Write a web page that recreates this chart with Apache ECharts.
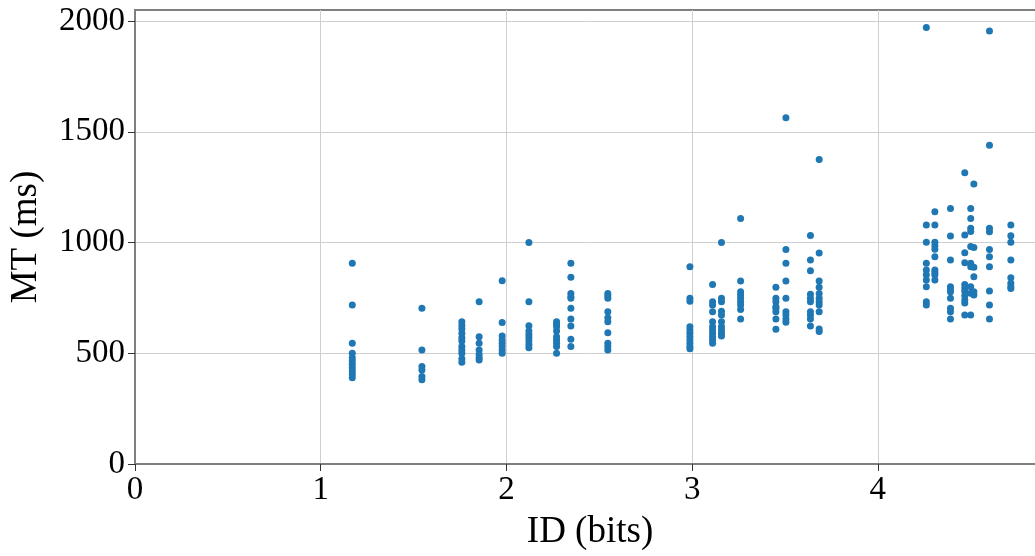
<!DOCTYPE html>
<html>
<head>
<meta charset="utf-8">
<script src="https://cdn.jsdelivr.net/npm/echarts@6/dist/echarts.min.js"></script>
<style>html,body{margin:0;padding:0;background:#fff}#c{width:1035px;height:556px}</style>
</head>
<body>
<div id="c"></div>
<script>
// ID (bits) of each column of points
const ids = [1.17, 1.545, 1.76, 1.853, 1.977, 2.121, 2.27, 2.347, 2.546, 2.988, 3.11, 3.158, 3.261, 3.451, 3.505, 3.637, 3.684, 4.261, 4.307, 4.391, 4.468, 4.50, 4.517, 4.601, 4.716];
// MT (ms) values, one small array per ID column
const mt_117 = [906, 718, 545, 500, 480, 465, 450, 435, 420, 405, 390];
const mt_155 = [703, 515, 440, 425, 395, 380];
const mt_176 = [642, 625, 610, 590, 570, 555, 530, 515, 500, 475, 460];
const mt_185 = [733, 575, 545, 515, 495, 480, 470];
const mt_198 = [828, 639, 578, 560, 545, 530, 515, 500];
const mt_212 = [1000, 733, 624, 600, 585, 570, 555, 540, 525];
const mt_227 = [642, 630, 620, 600, 575, 560, 545, 530, 500];
const mt_235 = [906, 843, 770, 755, 748, 703, 655, 623, 563, 530];
const mt_255 = [770, 760, 748, 688, 660, 642, 593, 545, 530, 515];
const mt_299 = [891, 748, 735, 620, 605, 590, 575, 560, 545, 530, 520];
const mt_311 = [811, 733, 718, 688, 642, 620, 605, 590, 575, 560, 545];
const mt_316 = [1000, 748, 733, 690, 673, 642, 620, 605, 590, 578];
const mt_326 = [1109, 826, 778, 763, 748, 733, 718, 698, 655];
const mt_345 = [798, 748, 733, 710, 703, 688, 655, 608];
const mt_350 = [1564, 969, 906, 826, 748, 688, 673, 655, 640];
const mt_364 = [1032, 921, 873, 766, 748, 733, 688, 673, 655, 623];
const mt_368 = [1375, 953, 826, 798, 770, 748, 733, 718, 688, 610, 598];
const mt_426 = [1971, 1079, 1001, 906, 876, 855, 831, 800, 733, 718];
const mt_431 = [1139, 1079, 1001, 985, 970, 936, 876, 865, 853, 831];
const mt_439 = [1154, 1029, 921, 800, 790, 778, 748, 703, 688, 655];
const mt_447 = [1315, 1034, 954, 909, 810, 795, 780, 760, 740, 727, 673];
const mt_450 = [1154, 1109, 1064, 1050, 982, 906, 891, 800, 771, 673];
const mt_452 = [1264, 978, 888, 846, 778, 763];
const mt_460 = [1955, 1439, 1064, 1049, 969, 936, 891, 781, 718, 655];
const mt_472 = [1079, 1031, 1001, 921, 841, 816, 800, 793];
const mtColumns = [mt_117, mt_155, mt_176, mt_185, mt_198, mt_212, mt_227, mt_235, mt_255, mt_299, mt_311, mt_316, mt_326, mt_345, mt_350, mt_364, mt_368, mt_426, mt_431, mt_439, mt_447, mt_450, mt_452, mt_460, mt_472];
const xTicks = [0, 1, 2, 3, 4];
const yTicks = [0, 500, 1000, 1500, 2000];

const points = [];
ids.forEach((id, i) => mtColumns[i].forEach(v => points.push([id, v])));

const FONT = '"Liberation Serif", "DejaVu Serif", serif';
const spine = '#7f7f7f';
const chart = echarts.init(document.getElementById('c'), null, {renderer: 'canvas'});
chart.setOption({
  animation: false,
  backgroundColor: '#ffffff',
  grid: {left: 135, top: 10, bottom: 92, right: -10, containLabel: false, outerBoundsMode: 'none',
    show: true, borderColor: spine, borderWidth: 2, backgroundColor: 'transparent'},
  xAxis: {
    type: 'value', min: 0, max: 4.9, interval: 1,
    name: 'ID (bits)', nameLocation: 'middle', nameGap: 50,
    nameTextStyle: {fontFamily: FONT, fontSize: 37, color: '#000'},
    axisLine: {show: true, onZero: false, lineStyle: {color: spine, width: 2}},
    axisTick: {show: true, length: 7, lineStyle: {color: '#333', width: 1}, customValues: xTicks},
    axisLabel: {fontFamily: FONT, fontSize: 33, color: '#000', margin: 10,
      customValues: xTicks, formatter: v => String(v)},
    splitLine: {show: true, lineStyle: {color: '#cfcfcf', width: 1}}
  },
  yAxis: {
    type: 'value', min: 0, max: 2050, interval: 500,
    name: 'MT (ms)', nameLocation: 'middle', nameGap: 90, nameRotate: 90,
    nameTextStyle: {fontFamily: FONT, fontSize: 37, color: '#000'},
    axisLine: {show: true, onZero: false, lineStyle: {color: spine, width: 2}},
    axisTick: {show: true, length: 7, lineStyle: {color: '#333', width: 1},
      customValues: yTicks},
    axisLabel: {fontFamily: FONT, fontSize: 33, color: '#000', margin: 10,
      customValues: yTicks, formatter: v => String(v)},
    splitLine: {show: true, lineStyle: {color: '#cfcfcf', width: 1}}
  },
  series: [{
    type: 'scatter', data: points, symbolSize: 7,
    itemStyle: {color: '#1f77b4', opacity: 1}
  }]
});
</script>
</body>
</html>
